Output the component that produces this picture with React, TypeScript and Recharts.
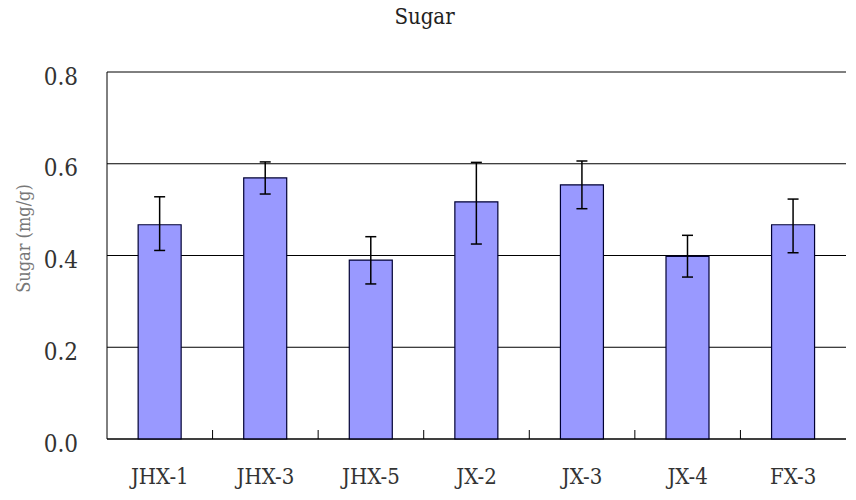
import React from 'react';
import { BarChart, Bar, XAxis, YAxis, CartesianGrid, ErrorBar } from 'recharts';

const categories = ['JHX-1', 'JHX-3', 'JHX-5', 'JX-2', 'JX-3', 'JX-4', 'FX-3'];
const sugar = [0.467, 0.569, 0.39, 0.517, 0.554, 0.398, 0.467];
const errMinus = [0.056, 0.035, 0.052, 0.092, 0.052, 0.045, 0.061];
const errPlus = [0.061, 0.035, 0.051, 0.086, 0.052, 0.046, 0.056];
const yTicks = [0, 0.2, 0.4, 0.6, 0.8];

const data = categories.map((c, i) => ({
  name: c,
  value: sugar[i],
  err: [errMinus[i], errPlus[i]],
}));

const FONT = "'DejaVu Serif Condensed', 'DejaVu Serif', serif";
const X_MARGIN = 29;

const XTick = (props: any) => {
  const { x, y, payload, index } = props;
  const axisY = y - X_MARGIN;
  const half = payload && payload.offset ? payload.offset : 0;
  return (
    <g>
      {index < categories.length - 1 && (
        <line x1={x + half} x2={x + half} y1={axisY} y2={axisY - 9} stroke="#000" strokeWidth={1} />
      )}
      <text
        x={x}
        y={y}
        dy="0.71em"
        textAnchor="middle"
        fill="#333"
        fontSize={22}
        fontFamily={FONT}
        style={{ fontStretch: 'condensed' }}
      >
        {payload.value}
      </text>
    </g>
  );
};

const YLabel = (props: any) => {
  const vb = props.viewBox || {};
  const cx = vb.x + 15;
  const cy = vb.y + vb.height / 2 - 17;
  return (
    <text
      x={cx}
      y={cy}
      transform={`rotate(-90, ${cx}, ${cy})`}
      textAnchor="middle"
      dominantBaseline="central"
      fill="#777"
      fontSize={18}
      fontFamily={FONT}
      style={{ fontStretch: 'condensed' }}
    >
      Sugar (mg/g)
    </text>
  );
};

export default function App() {
  return (
    <div style={{ position: 'relative', width: 848, height: 492, background: '#fff' }}>
      <div
        style={{
          position: 'absolute',
          left: 0,
          width: 833,
          top: -4,
          textAlign: 'center',
          fontFamily: FONT,
          fontStretch: 'condensed',
          fontSize: 22,
          color: '#222',
        }}
      >
        Sugar
      </div>
      <BarChart
        width={848}
        height={492}
        data={data}
        margin={{ top: 64, right: 10, left: 0, bottom: 0 }}
        barCategoryGap="29.5%"
      >
        <CartesianGrid horizontal vertical={false} stroke="#000" strokeOpacity={1} />
        <XAxis
          dataKey="name"
          height={61}
          tickLine={false}
          tickSize={0}
          tickMargin={X_MARGIN}
          axisLine={{ stroke: '#000' }}
          tick={<XTick />}
          interval={0}
        />
        <YAxis
          width={99}
          domain={[0, 0.8]}
          ticks={yTicks}
          tickFormatter={(v: number) => v.toFixed(1)}
          tickLine={false}
          tickSize={0}
          tickMargin={29}
          axisLine={{ stroke: '#000' }}
          tick={{ fill: '#333', fontSize: 24, fontFamily: FONT, dy: 4, style: { fontStretch: 'condensed' } }}
          label={<YLabel />}
        />
        <YAxis
          yAxisId="r"
          orientation="right"
          width={0}
          domain={[0, 0.8]}
          ticks={yTicks}
          tick={false}
          tickLine={false}
          axisLine={{ stroke: '#000' }}
        />
        <Bar dataKey="value" fill="#9999FF" stroke="#000033" strokeWidth={1.2} isAnimationActive={false}>
          <ErrorBar dataKey="err" width={5.5} stroke="#000" strokeWidth={1.5} isAnimationActive={false} />
        </Bar>
      </BarChart>
    </div>
  );
}
